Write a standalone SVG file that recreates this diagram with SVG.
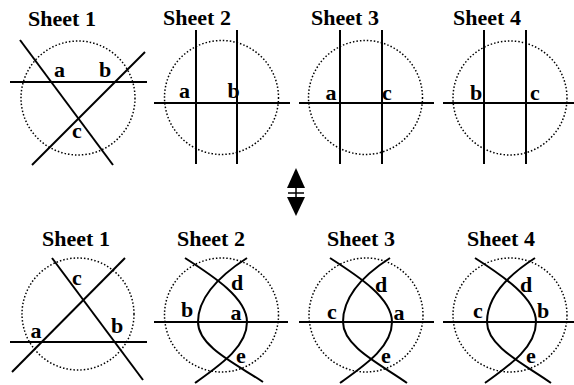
<svg xmlns="http://www.w3.org/2000/svg" width="574" height="385" viewBox="0 0 574 385">
<style>
.ln{stroke:#000;stroke-width:2;fill:none}
.c{stroke:#000;stroke-width:1.5;fill:none;stroke-dasharray:1.5 2}
</style>
<rect width="574" height="385" fill="#fff"/>
<g font-family="Liberation Serif, Times New Roman, Times, serif" font-weight="bold" font-size="22" text-anchor="middle" fill="#000">
<g id="top-sheet1">
<text x="62" y="26">Sheet 1</text>
<circle class="c" cx="78" cy="98" r="57"/>
<text x="59.5" y="77">a</text>
<text x="105" y="77">b</text>
<text x="77" y="138">c</text>
</g>
<g id="top-sheet2">
<text x="197" y="25">Sheet 2</text>
<circle class="c" cx="221.5" cy="97.5" r="57"/>
<text x="184.5" y="98">a</text>
<text x="233.5" y="98">b</text>
</g>
<g id="top-sheet3">
<text x="345" y="25">Sheet 3</text>
<circle class="c" cx="365.5" cy="97.5" r="57"/>
<text x="331" y="100">a</text>
<text x="387" y="100">c</text>
</g>
<g id="top-sheet4">
<text x="487" y="25">Sheet 4</text>
<circle class="c" cx="510" cy="98" r="57"/>
<text x="476" y="100">b</text>
<text x="535" y="100">c</text>
</g>
<g id="bottom-sheet1">
<text x="76" y="246">Sheet 1</text>
<circle class="c" cx="78" cy="314" r="56"/>
<text x="77" y="285">c</text>
<text x="36" y="338">a</text>
<text x="117" y="333">b</text>
</g>
<g id="bottom-sheet2">
<text x="211" y="246">Sheet 2</text>
<circle class="c" cx="221.5" cy="315" r="57"/>
<text x="237" y="290">d</text>
<text x="187" y="317">b</text>
<text x="236" y="320">a</text>
<text x="241" y="363">e</text>
</g>
<g id="bottom-sheet3">
<text x="361" y="246">Sheet 3</text>
<circle class="c" cx="366" cy="315" r="57"/>
<text x="381" y="292">d</text>
<text x="332" y="319">c</text>
<text x="399" y="320">a</text>
<text x="386" y="363">e</text>
</g>
<g id="bottom-sheet4">
<text x="501" y="246">Sheet 4</text>
<circle class="c" cx="510" cy="315" r="57"/>
<text x="526" y="292">d</text>
<text x="478" y="318">c</text>
<text x="543" y="318">b</text>
<text x="531" y="363">e</text>
</g>
</g>
<g id="arrow">
<polygon points="296,168 305,188 287,188" fill="#000"/>
<line x1="296" y1="188" x2="296" y2="197" stroke="#000" stroke-width="1.5"/>
<line x1="288" y1="193" x2="304" y2="193" stroke="#000" stroke-width="1.5"/>
<polygon points="287,197 305,197 296,216" fill="#000"/>
</g>
<g id="connectors">
<line class="ln" x1="10" y1="82" x2="147" y2="82"/>
<line class="ln" x1="20" y1="40" x2="113" y2="165"/>
<line class="ln" x1="32" y1="165" x2="145" y2="52"/>
<line class="ln" x1="154" y1="103" x2="290" y2="103"/>
<line class="ln" x1="196" y1="30" x2="196" y2="164"/>
<line class="ln" x1="237" y1="30" x2="237" y2="164"/>
<line class="ln" x1="299" y1="103" x2="434" y2="103"/>
<line class="ln" x1="340" y1="30" x2="340" y2="164"/>
<line class="ln" x1="382" y1="30" x2="382" y2="164"/>
<line class="ln" x1="443" y1="103" x2="574" y2="103"/>
<line class="ln" x1="484" y1="30" x2="484" y2="164"/>
<line class="ln" x1="526" y1="30" x2="526" y2="164"/>
<line class="ln" x1="10" y1="342" x2="147" y2="342"/>
<line class="ln" x1="52" y1="258" x2="143" y2="380"/>
<line class="ln" x1="12" y1="372" x2="125" y2="258"/>
<line class="ln" x1="154" y1="322" x2="288" y2="322"/>
<path class="ln" d="M185,258 C213,276 247,298 247,322 C247,347 220,365 195,383"/>
<path class="ln" d="M247,258 C219,276 198,298 198,322 C198,347 238,365 263,382"/>
<line class="ln" x1="299" y1="322" x2="434" y2="322"/>
<path class="ln" d="M330,258 C358,276 392,298 392,322 C392,347 365,365 340,383"/>
<path class="ln" d="M390,258 C362,276 343,298 343,322 C343,347 382,365 407,383"/>
<line class="ln" x1="443" y1="322" x2="574" y2="322"/>
<path class="ln" d="M475,258 C503,276 536,298 536,322 C536,347 510,365 485,383"/>
<path class="ln" d="M535,258 C507,276 487,298 487,322 C487,347 526,365 551,383"/>
</g>
</svg>
